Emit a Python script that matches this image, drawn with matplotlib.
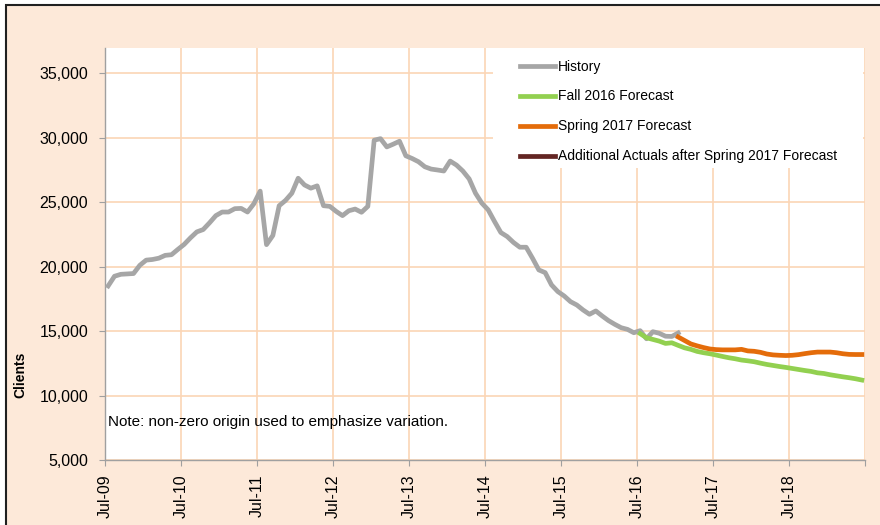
import numpy as np
import matplotlib
matplotlib.use('Agg')
from matplotlib import pyplot as plt
from matplotlib.patches import Rectangle
from matplotlib.ticker import FuncFormatter

plt.rcParams['font.family'] = ['Liberation Sans', 'DejaVu Sans']

# monthly caseload, Jul-09 .. Jan-17
history = [18500, 19250, 19400, 19430, 19460, 20100, 20500, 20550, 20650, 20870,
           20920, 21330, 21720, 22230, 22690, 22870, 23390, 23950, 24230, 24230,
           24490, 24510, 24230, 24870, 25850, 21700, 22410, 24720, 25130, 25690,
           26850, 26330, 26080, 26260, 24720, 24670, 24280, 23950, 24330, 24460,
           24210, 24670, 29800, 29920, 29280, 29490, 29720, 28590, 28380, 28130,
           27740, 27560, 27490, 27410, 28180, 27870, 27410, 26800, 25690, 24920,
           24400, 23500, 22640, 22330, 21870, 21500, 21500, 20650, 19740, 19530,
           18580, 18060, 17720, 17280, 17020, 16630, 16300, 16560, 16170, 15810,
           15520, 15260, 15130, 14870, 15030, 14400, 14950, 14830, 14600, 14580,
           14850]

# Jul-16 .. Jun-19
fall_2016 = [14800, 14480, 14350, 14220, 14040, 14090, 13890, 13700, 13580, 13420,
             13320, 13240, 13140, 13030, 12930, 12850, 12750, 12690, 12620, 12510,
             12410, 12330, 12250, 12180, 12100, 12020, 11940, 11870, 11760, 11710,
             11610, 11530, 11450, 11380, 11300, 11200]
fall_start = 84

# Jan-17 .. Jun-19
spring_2017 = [14540, 14270, 14000, 13850, 13720, 13610, 13560, 13540, 13540, 13540,
               13580, 13460, 13430, 13350, 13220, 13150, 13120, 13100, 13120, 13170,
               13250, 13320, 13370, 13370, 13370, 13320, 13240, 13190, 13180, 13180]
spring_start = 90

additional_actuals = []

tick_labels = ['Jul-09', 'Jul-10', 'Jul-11', 'Jul-12', 'Jul-13',
               'Jul-14', 'Jul-15', 'Jul-16', 'Jul-17', 'Jul-18']

W, H = 880, 525
fig = plt.figure(figsize=(W / 100, H / 100), dpi=100, facecolor='white')
fig.patches.append(Rectangle((6 / W, -0.05), 1.1, 1 - 5 / H + 0.05,
                             transform=fig.transFigure, facecolor='#FDE9D9',
                             edgecolor='#202020', linewidth=1.5, zorder=-5))

ax = fig.add_axes([105 / W, 1 - 460 / H, 760 / W, 412 / H])
ax.set_facecolor('white')

grid_c = '#FBD5B5'
x_hist = np.arange(len(history)) + 0.5
x_fall = np.arange(len(fall_2016)) + fall_start + 0.5
x_spring = np.arange(len(spring_2017)) + spring_start + 0.5

lw = 3.4
ax.plot(x_hist, history, color='#A6A6A6', lw=lw, label='History', zorder=3,
        solid_joinstyle='round')
ax.plot(x_fall, fall_2016, color='#92D050', lw=lw, label='Fall 2016 Forecast', zorder=4,
        solid_joinstyle='round')
ax.plot(x_spring, spring_2017, color='#E46C0A', lw=lw, label='Spring 2017 Forecast', zorder=5,
        solid_joinstyle='round')
ax.plot(np.arange(len(additional_actuals)), additional_actuals, color='#632523', lw=lw,
        label='Additional Actuals after Spring 2017 Forecast', zorder=6)

ax.set_xlim(0, 120)
ax.set_ylim(5000, 36950)
ax.set_yticks(np.arange(5000, 35001, 5000))
ax.yaxis.set_major_formatter(FuncFormatter(lambda v, p: f'{int(v):,}'))
ax.set_xticks(np.arange(0, 121, 12))
ax.set_xticklabels(tick_labels + [''], rotation=90)

ax.grid(True, color=grid_c, lw=1.2)
ax.set_axisbelow(True)
for s in ['top', 'right']:
    ax.spines[s].set_visible(False)
for s in ['left', 'bottom']:
    ax.spines[s].set_color('#A0A0A0')
    ax.spines[s].set_linewidth(1.0)
ax.tick_params(axis='y', length=4, color='#A0A0A0', pad=8, labelsize=11.5)
ax.tick_params(axis='x', length=4, color='#A0A0A0', pad=6.5, labelsize=11.5)

# legend box
ax.add_patch(Rectangle(((493 - 105) / 760, (460 - 168) / 412), (863 - 493) / 760,
                       120 / 412, transform=ax.transAxes, facecolor='white',
                       edgecolor='none', zorder=2.5))
ax.legend(loc='upper left', bbox_to_anchor=(520 / W, 1 - 59.5 / H),
          bbox_transform=fig.transFigure, frameon=False, fontsize=10,
          borderaxespad=0, borderpad=0, handlelength=2.52, handletextpad=0.2,
          labelspacing=1.15)

ax.text(0.004, 0.092, 'Note: non-zero origin used to emphasize variation.',
        transform=ax.transAxes, fontsize=11, va='center', ha='left', zorder=7)

fig.text(20 / W, 1 - 375 / H, 'Clients', rotation=90, fontsize=10,
         fontweight='bold', ha='center', va='center')

plt.savefig('out.png', dpi=100)
